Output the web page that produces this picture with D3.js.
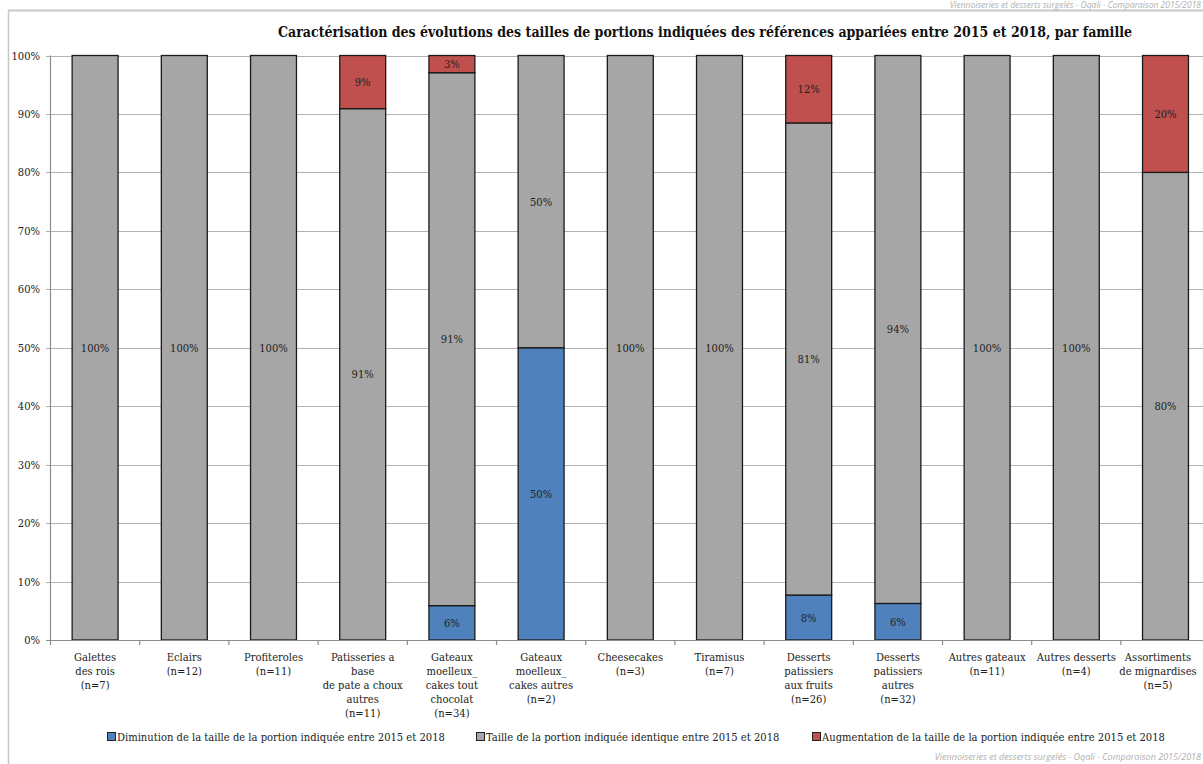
<!DOCTYPE html>
<html><head><meta charset="utf-8">
<script src="https://cdn.jsdelivr.net/npm/d3@7"></script>
<style>body{margin:0;background:#fff;overflow:hidden}svg{display:block}</style>
</head><body>
<svg id="c" width="1203" height="764"></svg>
<script>
const categories = [
  "Galettes\ndes rois\n(n=7)",
  "Eclairs\n(n=12)",
  "Profiteroles\n(n=11)",
  "Patisseries a\nbase\nde pate a choux\nautres\n(n=11)",
  "Gateaux\nmoelleux_\ncakes tout\nchocolat\n(n=34)",
  "Gateaux\nmoelleux_\ncakes autres\n(n=2)",
  "Cheesecakes\n(n=3)",
  "Tiramisus\n(n=7)",
  "Desserts\npatissiers\naux fruits\n(n=26)",
  "Desserts\npatissiers\nautres\n(n=32)",
  "Autres gateaux\n(n=11)",
  "Autres desserts\n(n=4)",
  "Assortiments\nde mignardises\n(n=5)"
];
const diminution   = [0, 0, 0, 0, 5.88, 50, 0, 0, 7.69, 6.25, 0, 0, 0];
const identique    = [100, 100, 100, 90.91, 91.18, 50, 100, 100, 80.77, 93.75, 100, 100, 80];
const augmentation = [0, 0, 0, 9.09, 2.94, 0, 0, 0, 11.54, 0, 0, 0, 20];
const seriesNames = [
  "Diminution de la taille de la portion indiquée entre 2015 et 2018",
  "Taille de la portion indiquée identique entre 2015 et 2018",
  "Augmentation de la taille de la portion indiquée entre 2015 et 2018"
];
const seriesColors = ["#4f81bd", "#a6a6a6", "#c0504d"];
const yTicks = [0,10,20,30,40,50,60,70,80,90,100];
const title = "Caractérisation des évolutions des tailles de portions indiquées des références appariées entre 2015 et 2018, par famille";
const source = "Viennoiseries et desserts surgelés - Oqali - Comparaison 2015/2018";

const svg = d3.select("#c");
const serif = "'DejaVu Serif Condensed', 'DejaVu Serif', serif";
const fs = 11.1;
const step = 89.2;
const x0 = 50.5;
const x = d3.scaleBand().domain(d3.range(categories.length))
  .range([x0, x0 + step*categories.length]).paddingInner(0.485).paddingOuter(0.2425);
const y = d3.scaleLinear().domain([0,100]).range([640, 55.5]);

// frame
svg.append("line").attr("x1",8).attr("x2",1203).attr("y1",10.5).attr("y2",10.5).attr("stroke","#c8c8c8").attr("stroke-width",2);
svg.append("line").attr("x1",8.5).attr("x2",8.5).attr("y1",10).attr("y2",764).attr("stroke","#c8c8c8").attr("stroke-width",1.5);

// source texts
svg.append("text").attr("x",1201).attr("y",8).attr("text-anchor","end")
  .attr("font-family","'Open Sans', sans-serif").attr("font-style","italic").attr("font-size",8.5).attr("fill","#b0b0b0").text(source);
svg.append("text").attr("x",1201).attr("y",760).attr("text-anchor","end")
  .attr("font-family","'Open Sans', sans-serif").attr("font-style","italic").attr("font-size",9).attr("fill","#b0b0b0").text(source);

// title
svg.append("text").attr("x",705).attr("y",37).attr("text-anchor","middle")
  .attr("font-family",serif).attr("font-weight","bold").attr("font-size",14).attr("fill","#111").text(title);

// gridlines
svg.append("g").selectAll("line").data(yTicks.filter(d=>d>0)).join("line")
  .attr("x1",46).attr("x2",1203).attr("y1",d=>Math.round(y(d))+0.5).attr("y2",d=>Math.round(y(d))+0.5)
  .attr("stroke","#b3b3b3").attr("stroke-width",1.2);

// y labels
svg.append("g").selectAll("text").data(yTicks).join("text")
  .attr("x",40).attr("y",d=>y(d)+4).attr("text-anchor","end")
  .attr("font-family",serif).attr("font-size",fs).attr("fill","#222").text(d=>d+"%");

// bars
const stackData = categories.map((c,i)=>({i, d:diminution[i], s:identique[i], a:augmentation[i]}));
const stack = d3.stack().keys(["d","s","a"])(stackData);
stack.forEach((layer,k)=>{
  svg.append("g").selectAll("rect").data(layer.filter(p=>p[1]-p[0]>0)).join("rect")
    .attr("x",p=>x(p.data.i)).attr("width",x.bandwidth())
    .attr("y",p=>y(p[1])).attr("height",p=>y(p[0])-y(p[1]))
    .attr("fill",seriesColors[k]).attr("stroke","#1a1a1a").attr("stroke-width",1.3);
});
stack.forEach((layer,k)=>{
  svg.append("g").selectAll("text").data(layer.filter(p=>p[1]-p[0]>0)).join("text")
    .attr("x",p=>x(p.data.i)+x.bandwidth()/2).attr("y",p=>y((p[0]+p[1])/2)+4)
    .attr("text-anchor","middle").attr("font-family",serif).attr("font-size",fs).attr("fill","#222")
    .text(p=>Math.round(p[1]-p[0])+"%");
});

// axes
svg.append("line").attr("x1",x0).attr("x2",x0).attr("y1",y(100)).attr("y2",y(0)).attr("stroke","#8c8c8c").attr("stroke-width",1.2);
svg.append("line").attr("x1",46).attr("x2",1203).attr("y1",640.5).attr("y2",640.5).attr("stroke","#8c8c8c").attr("stroke-width",1.2);
svg.append("g").selectAll("line").data(d3.range(categories.length+1)).join("line")
  .attr("x1",i=>x0+i*step).attr("x2",i=>x0+i*step).attr("y1",640).attr("y2",645)
  .attr("stroke","#8c8c8c").attr("stroke-width",1.2);

// x labels
const xl = svg.append("g").selectAll("text").data(categories).join("text")
  .attr("text-anchor","middle").attr("font-family",serif).attr("font-size",fs).attr("fill","#222");
xl.each(function(c,i){
  const t = d3.select(this);
  const cx = Math.min(x(i)+x.bandwidth()/2, 1158);
  c.split("\n").forEach((line,j)=>{
    t.append("tspan").attr("x",cx).attr("y",661+j*14).text(line);
  });
});

// legend
const legX = [107, 476, 812];
const lg = svg.append("g").selectAll("g").data(seriesNames).join("g")
  .attr("transform",(d,k)=>`translate(${legX[k]},737)`);
lg.append("rect").attr("x",0.5).attr("y",-4.5).attr("width",8).attr("height",8)
  .attr("fill",(d,k)=>seriesColors[k]).attr("stroke","#222").attr("stroke-width",1);
lg.append("text").attr("x",10).attr("y",4).attr("font-family",serif).attr("font-size",fs).attr("fill","#222").text(d=>d);
</script>
</body></html>
